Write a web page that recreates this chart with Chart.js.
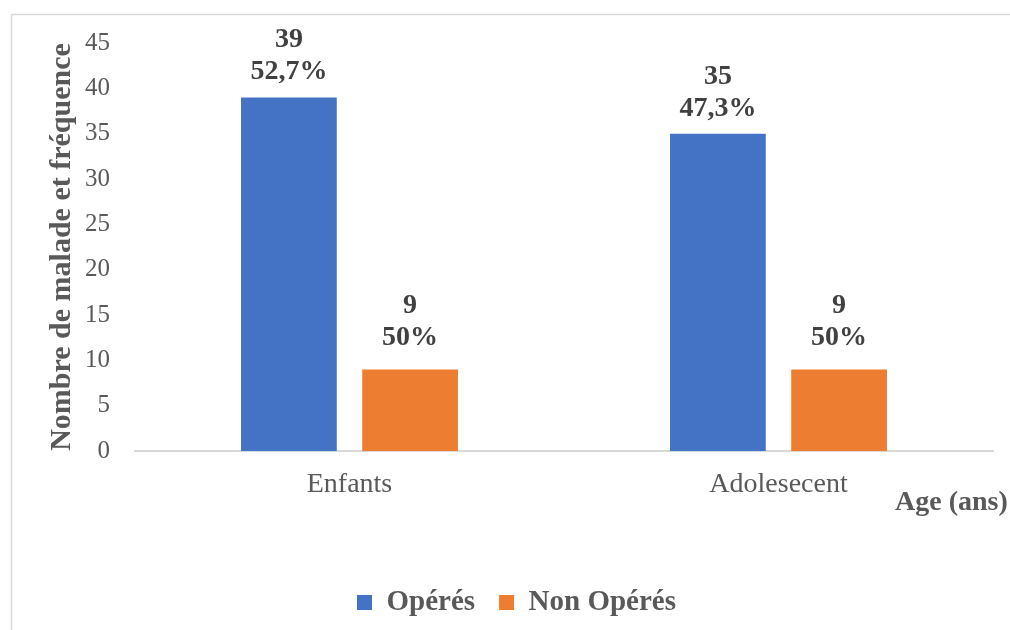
<!DOCTYPE html>
<html>
<head>
<meta charset="utf-8">
<script src="https://cdn.jsdelivr.net/npm/chart.js@4.4.1/dist/chart.umd.min.js"></script>
<style>
  html, body { margin: 0; padding: 0; background: #fff; }
  #wrap { width: 1010px; height: 630px; }
</style>
</head>
<body>
<div id="wrap"><canvas id="ageChart"></canvas></div>
<script>
// Répartition des malades par tranche d'âge
const categories = ['Enfants', 'Adolesecent'];
const operes = [39, 35];
const nonOperes = [9, 9];
const operesPct = [52.7, 47.3];
const nonOperesPct = [50, 50];

const FONT = "'Liberation Serif', 'Times New Roman', serif";
const GREY = '#595959';

function fmtPct(v) {
    return String(v).replace('.', ',') + '%';
}

// cadre gris autour du graphique
const framePlugin = {
    id: 'frame',
    beforeDraw(chart) {
        const ctx = chart.ctx;
        ctx.save();
        ctx.strokeStyle = '#d9d9d9';
        ctx.lineWidth = 1.5;
        ctx.strokeRect(11.5, 14.5, 2000, 2000);
        ctx.restore();
    }
};

// étiquettes : effectif + pourcentage au-dessus des barres
const valueLabels = {
    id: 'valueLabels',
    afterDatasetsDraw(chart) {
        const ctx = chart.ctx;
        const pcts = [operesPct, nonOperesPct];
        const gaps = [18, 24];
        ctx.save();
        ctx.font = 'bold 28px ' + FONT;
        ctx.fillStyle = '#404040';
        ctx.textAlign = 'center';
        ctx.textBaseline = 'alphabetic';
        chart.data.datasets.forEach((ds, i) => {
            chart.getDatasetMeta(i).data.forEach((bar, j) => {
                const base = bar.y - gaps[i];
                ctx.fillText(fmtPct(pcts[i][j]), bar.x, base);
                ctx.fillText(String(ds.data[j]), bar.x, base - 32);
            });
        });
        // titre de l'axe des x, en bas à droite
        ctx.fillStyle = GREY;
        ctx.textAlign = 'left';
        ctx.fillText('Age (ans)', chart.chartArea.right - 98, 510);
        ctx.restore();
    }
};

new Chart(document.getElementById('ageChart'), {
    type: 'bar',
    data: {
        labels: categories,
        datasets: [
            {
                label: 'Opérés',
                data: operes,
                backgroundColor: '#4472C4',
                barPercentage: 0.79,
                categoryPercentage: 0.565
            },
            {
                label: 'Non Opérés',
                data: nonOperes,
                backgroundColor: '#ED7D31',
                barPercentage: 0.79,
                categoryPercentage: 0.565
            }
        ]
    },
    options: {
        responsive: true,
        maintainAspectRatio: false,
        animation: false,
        layout: {
            padding: { left: 40, right: 17, top: 43, bottom: 3 }
        },
        plugins: {
            legend: {
                position: 'bottom',
                labels: {
                    boxWidth: 15,
                    boxHeight: 15,
                    padding: 24,
                    color: GREY,
                    font: { family: FONT, size: 29, weight: 'bold' }
                }
            },
            tooltip: { enabled: false }
        },
        scales: {
            x: {
                grid: { display: false, drawTicks: false },
                border: { display: true, color: '#d9d9d9', width: 2 },
                ticks: {
                    color: GREY,
                    padding: 17,
                    font: { family: FONT, size: 28 }
                },
                afterFit(scale) { scale.height = 113; }
            },
            y: {
                min: 0,
                max: 45,
                grid: { display: false, drawTicks: false },
                border: { display: false },
                ticks: {
                    stepSize: 5,
                    color: GREY,
                    padding: 25,
                    font: { family: FONT, size: 25 }
                },
                title: {
                    display: true,
                    text: 'Nombre de malade et fréquence',
                    color: GREY,
                    font: { family: FONT, size: 30, weight: 'bold' }
                },
                afterFit(scale) { scale.width = 95; }
            }
        }
    },
    plugins: [framePlugin, valueLabels]
});
</script>
</body>
</html>
